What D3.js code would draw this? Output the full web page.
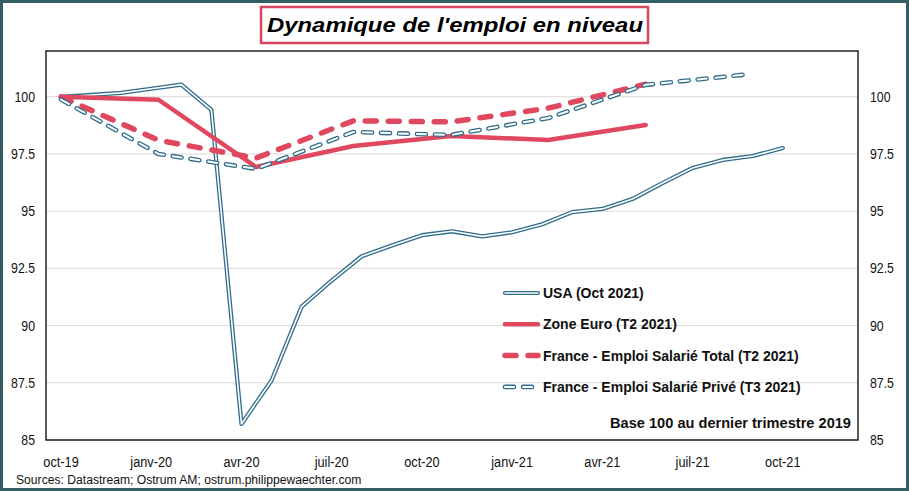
<!DOCTYPE html>
<html>
<head>
<meta charset="utf-8">
<script src="https://cdn.jsdelivr.net/npm/d3@7"></script>
<style>
  body { margin: 0; background: #fff; }
  svg text { font-family: "Liberation Sans", Arial, sans-serif; }
</style>
</head>
<body>
<div id="chart"></div>
<script>
// monthly axis, oct-19 .. dec-21
const months = ['oct-19', 'nov-19', 'dec-19', 'janv-20', 'fevr-20', 'mars-20', 'avr-20', 'mai-20', 'juin-20',
  'juil-20', 'aout-20', 'sept-20', 'oct-20', 'nov-20', 'dec-20', 'janv-21', 'fevr-21', 'mars-21',
  'avr-21', 'mai-21', 'juin-21', 'juil-21', 'aout-21', 'sept-21', 'oct-21', 'nov-21', 'dec-21'];
const monthTicks = ['oct-19', 'janv-20', 'avr-20', 'juil-20', 'oct-20', 'janv-21', 'avr-21', 'juil-21', 'oct-21'];

const usa = [100.0, 100.08, 100.17, 100.35, 100.53, 99.43, 85.7, 87.6, 90.83, 91.97, 93.03, 93.5, 93.95,
  94.12, 93.9, 94.08, 94.43, 94.96, 95.1, 95.53, 96.23, 96.89, 97.24, 97.41, 97.76];

// quarterly series, T4 2019 ..
const quarters = ['T4-19', 'T1-20', 'T2-20', 'T3-20', 'T4-20', 'T1-21', 'T2-21', 'T3-21'];
const zoneEuro = [100.0, 99.87, 96.93, 97.85, 98.29, 98.11, 98.77];
const franceTotal = [100.0, 98.1, 97.32, 98.95, 98.9, 99.5, 100.55];
const francePrive = [99.88, 97.5, 96.85, 98.46, 98.33, 99.07, 100.52, 100.96];

const yTicks = [85, 87.5, 90, 92.5, 95, 97.5, 100];

const W = 909, H = 491;
const plot = { left: 46, right: 858, top: 51, bottom: 440 };
const teal = '#2f6d8b', red = '#e0485f';

const svg = d3.select('#chart').append('svg')
  .attr('width', W)
  .attr('height', H);

const x = d3.scalePoint()
  .domain(months)
  .range([plot.left, plot.right])
  .padding(0.5);

// the quarterly series sit on their own category axis in the original
const xq = d3.scaleLinear()
  .domain([0, quarters.length - 1])
  .range([x(months[0]), x(months[0]) + (quarters.length - 1) * 3.24 * x.step()]);

const y = d3.scaleLinear()
  .domain([85, 102])
  .range([plot.bottom, plot.top]);

// outer frame
svg.append('rect')
  .attr('x', 1.5).attr('y', 1.5)
  .attr('width', W - 3).attr('height', H - 3)
  .attr('fill', '#fff')
  .attr('stroke', '#335e63')
  .attr('stroke-width', 3);

// grid
svg.append('g')
  .selectAll('line')
  .data(yTicks)
  .join('line')
  .attr('x1', plot.left).attr('x2', plot.right)
  .attr('y1', d => y(d)).attr('y2', d => y(d))
  .attr('stroke', '#d9d9d9')
  .attr('stroke-width', 1);

// plot frame
svg.append('rect')
  .attr('x', plot.left).attr('y', plot.top)
  .attr('width', plot.right - plot.left).attr('height', plot.bottom - plot.top)
  .attr('fill', 'none')
  .attr('stroke', '#000')
  .attr('stroke-width', 1.3);

const fmt = d => String(d);

// y labels both sides (slightly condensed like the original)
const yl = svg.append('g').style('font-size', '14px').attr('fill', '#111');
yl.selectAll('text.l')
  .data(yTicks)
  .join('text')
  .attr('class', 'l')
  .attr('text-anchor', 'end')
  .attr('transform', d => `translate(35,${y(d) + 5}) scale(0.88,1)`)
  .text(fmt);
yl.selectAll('text.r')
  .data(yTicks)
  .join('text')
  .attr('class', 'r')
  .attr('text-anchor', 'start')
  .attr('transform', d => `translate(870,${y(d) + 5}) scale(0.88,1)`)
  .text(fmt);

// x labels
svg.append('g').style('font-size', '14.5px').attr('fill', '#111')
  .selectAll('text')
  .data(monthTicks)
  .join('text')
  .attr('text-anchor', 'middle')
  .attr('transform', d => `translate(${x(d)},467) scale(0.88,1)`)
  .text(d => d);

const lineM = d3.line().x((d, i) => x(months[i])).y(d => y(d));
const lineQ = d3.line().x((d, i) => xq(i)).y(d => y(d));

const styles = {
  usa: [{ stroke: teal, width: 4.2 }, { stroke: '#fff', width: 1.6 }],
  euro: [{ stroke: red, width: 4.5 }],
  total: [{ stroke: red, width: 5.5, dash: '11,12' }],
  prive: [{ stroke: teal, width: 4.6, dash: '9,9' }, { stroke: '#fff', width: 2, dash: '9,9' }]
};

function drawPath(g, d, st) {
  st.forEach(s => {
    g.append('path')
      .attr('d', d)
      .attr('fill', 'none')
      .attr('stroke', s.stroke)
      .attr('stroke-width', s.width)
      .attr('stroke-linejoin', 'round')
      .attr('stroke-linecap', 'round')
      .attr('stroke-dasharray', s.dash || null);
  });
}

const series = svg.append('g');
drawPath(series, lineM(usa), styles.usa);
drawPath(series, lineQ(zoneEuro), styles.euro);
drawPath(series, lineQ(franceTotal), styles.total);
drawPath(series, lineQ(francePrive), styles.prive);

// legend
const legendItems = [
  { key: 'usa', label: 'USA (Oct 2021)' },
  { key: 'euro', label: 'Zone Euro (T2 2021)' },
  { key: 'total', label: 'France - Emploi Salarié Total (T2 2021)' },
  { key: 'prive', label: 'France - Emploi Salarié Privé (T3 2021)' }
];
const legend = svg.append('g');
legendItems.forEach((it, i) => {
  const cy = 293 + i * 31.3;
  drawPath(legend, `M505,${cy}H538`, styles[it.key]);
  legend.append('text')
    .attr('x', 543).attr('y', cy + 5)
    .style('font-size', '14px')
    .style('font-weight', 'bold')
    .attr('fill', '#111')
    .text(it.label);
});

svg.append('text')
  .attr('x', 851).attr('y', 428)
  .attr('text-anchor', 'end')
  .style('font-size', '14.6px')
  .style('font-weight', 'bold')
  .attr('fill', '#111')
  .text('Base 100 au dernier trimestre 2019');

// sources
svg.append('text')
  .attr('transform', 'translate(16,484) scale(0.9,1)')
  .style('font-size', '13.5px')
  .attr('fill', '#111')
  .text('Sources: Datastream; Ostrum AM; ostrum.philippewaechter.com');

// title
svg.append('rect')
  .attr('x', 261).attr('y', 7)
  .attr('width', 387).attr('height', 36)
  .attr('fill', '#fff')
  .attr('stroke', '#d8475f')
  .attr('stroke-width', 2.5);
svg.append('text')
  .attr('x', 267).attr('y', 32)
  .attr('textLength', 376)
  .attr('lengthAdjust', 'spacingAndGlyphs')
  .style('font-size', '20px')
  .style('font-weight', 'bold')
  .style('font-style', 'italic')
  .attr('fill', '#000')
  .text("Dynamique de l'emploi en niveau");
</script>
</body>
</html>
